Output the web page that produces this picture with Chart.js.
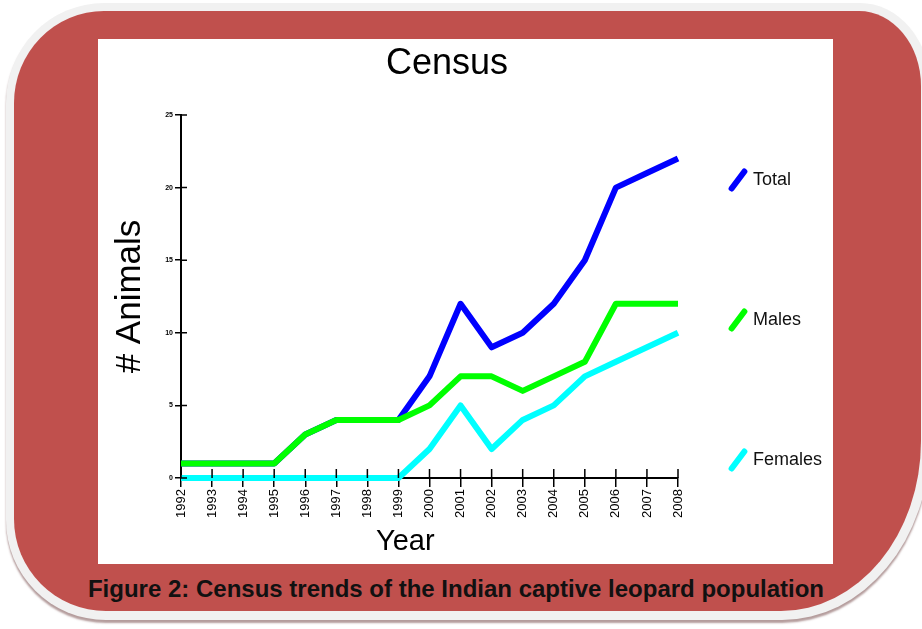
<!DOCTYPE html>
<html>
<head>
<meta charset="utf-8">
<title>Census</title>
<script src="https://cdn.jsdelivr.net/npm/chart.js"></script>
<style>
  body { margin: 0; width: 922px; height: 629px; overflow: hidden; position: relative; background: #fff; font-family: "Liberation Sans", Arial, sans-serif; }
  .anillo { position: absolute; left: 6px; top: 3px; width: 924px; height: 617px; background: #f1f1f1;
            border-radius: 98px 70px 148px 100px / 100px 83px 178px 100px; box-shadow: 0 3px 2px rgba(130, 90, 90, 0.6); }
  .marco { position: absolute; left: 14px; top: 11px; width: 907px; height: 600px; background: #c0504d;
           border-radius: 90px 62px 140px 92px / 92px 75px 170px 92px; }
  .papel { position: absolute; left: 98px; top: 39px; width: 735px; height: 525px; background: #fff; }
  .grafico { position: absolute; left: 0; top: 39px; width: 904px; height: 525px; }
  .pie { position: absolute; left: 0; top: 574px; width: 912px; text-align: center; font-weight: bold; font-size: 24px; line-height: 30px; color: #111; }
</style>
</head>
<body>
<div class="anillo"></div>
<div class="marco"></div>
<div class="papel"></div>
<div class="grafico"><canvas id="grafica" width="904" height="525"></canvas></div>
<div class="pie">Figure 2: Census trends of the Indian captive leopard population</div>
<script>
var anios = ['1992', '1993', '1994', '1995', '1996', '1997', '1998', '1999', '2000',
             '2001', '2002', '2003', '2004', '2005', '2006', '2007', '2008'];
var total   = [1, 1, 1, 1, 3, 4, 4, 4, 7, 12, 9, 10, 12, 15, 20, 21, 22];
var machos  = [1, 1, 1, 1, 3, 4, 4, 4, 5, 7, 7, 6, 7, 8, 12, 12, 12];
var hembras = [0, 0, 0, 0, 0, 0, 0, 0, 2, 5, 2, 4, 5, 7, 8, 9, 10];
var marcasY = [0, 5, 10, 15, 20, 25];

Chart.defaults.font.family = "'Liberation Sans', Arial, sans-serif";
Chart.defaults.color = '#000';

function serie(nombre, valores, color, orden) {
    return {
        label: nombre,
        data: valores,
        borderColor: color,
        backgroundColor: color,
        borderWidth: 6,
        borderJoinStyle: 'round',
        tension: 0,
        clip: false,
        order: orden,
        pointRadius: 0,
        pointHoverRadius: 0,
        pointStyle: 'line',
        pointRotation: -53,
        pointBorderColor: color,
        pointBorderWidth: 6
    };
}

// las marcas cruzan el eje: la parte de dentro se pinta aqui
var marcasDentro = {
    id: 'marcasDentro',
    afterDraw: function (chart) {
        var ctx = chart.ctx;
        var ejeX = chart.scales.x;
        var ejeY = chart.scales.y;
        ctx.save();
        ctx.strokeStyle = '#000';
        ctx.lineWidth = 1.5;
        ctx.beginPath();
        ejeY.ticks.forEach(function (t) {
            var py = ejeY.getPixelForValue(t.value);
            ctx.moveTo(ejeX.left, py);
            ctx.lineTo(ejeX.left + 6, py);
        });
        ejeX.ticks.forEach(function (t, i) {
            var px = ejeX.getPixelForTick(i);
            ctx.moveTo(px, ejeY.bottom);
            ctx.lineTo(px, ejeY.bottom - 9);
        });
        ctx.stroke();
        ctx.restore();
    }
};

var miCanvas = document.getElementById('grafica').getContext('2d');

var chart = new Chart(miCanvas, {
    type: 'line',
    data: {
        labels: anios,
        datasets: [
            serie('Total', total, '#0000ff', 1),
            serie('Males', machos, '#00ff00', 0),
            serie('Females', hembras, '#00ffff', 0)
        ]
    },
    options: {
        responsive: false,
        animation: false,
        events: [],
        layout: { padding: 0 },
        plugins: {
            tooltip: { enabled: false },
            title: {
                display: true,
                text: 'Census ',
                color: '#000',
                font: { size: 36, weight: 'normal', lineHeight: 1 },
                padding: { top: 7, bottom: 33 }
            },
            legend: {
                position: 'right',
                align: 'start',
                fullSize: true,
                // hueco vacio para bajar la primera entrada
                title: { display: true, text: '', padding: 0, font: { size: 78, lineHeight: 1 } },
                labels: {
                    usePointStyle: true,
                    boxWidth: 12,
                    boxHeight: 15,
                    padding: 54,
                    color: '#111',
                    font: { size: 18, lineHeight: 2.389 },
                    generateLabels: function (c) {
                        var items = Chart.defaults.plugins.legend.labels.generateLabels(c);
                        items.forEach(function (it) {
                            it.text = [it.text, ''];
                            it.lineCap = 'round';
                        });
                        return items;
                    },
                    sort: function (a, b) { return a.datasetIndex - b.datasetIndex; }
                }
            }
        },
        scales: {
            x: {
                offset: false,
                z: 1,
                grid: { drawOnChartArea: false, drawTicks: true, tickLength: 9, color: '#000', lineWidth: 1.5 },
                border: { display: true, color: '#000', width: 2 },
                ticks: { autoSkip: false, minRotation: 90, maxRotation: 90, padding: 2, color: '#000', font: { size: 13 } },
                title: { display: true, text: 'Year      ', color: '#000', font: { size: 29, lineHeight: 1 }, padding: { top: 0, bottom: 8 } },
                afterFit: function (s) { s.height = 86; }
            },
            y: {
                min: 0,
                max: 25,
                z: 1,
                grid: { drawOnChartArea: false, drawTicks: true, tickLength: 6, color: '#000', lineWidth: 1.5 },
                border: { display: true, color: '#000', width: 2 },
                ticks: { padding: 2, color: '#000', font: { size: 7, weight: 'bold' } },
                afterBuildTicks: function (s) {
                    s.ticks = marcasY.map(function (v) { return { value: v }; });
                },
                title: { display: true, text: '# Animals', color: '#000', font: { size: 35, lineHeight: 1 }, padding: { top: 113 } },
                afterFit: function (s) { s.width = 181; }
            }
        }
    },
    plugins: [marcasDentro]
});
</script>
</body>
</html>
